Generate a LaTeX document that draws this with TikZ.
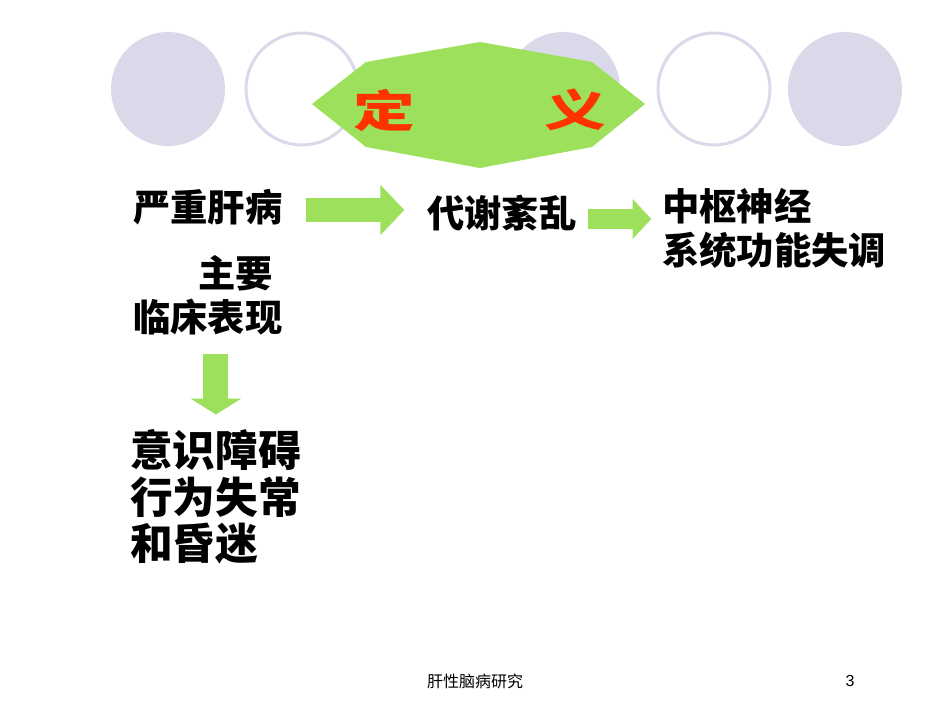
\documentclass[tikz,border=0pt]{standalone}
\usepackage{fontspec}
\usetikzlibrary{arrows.meta}
\setmainfont{Liberation Serif}
\newfontfamily\cjk{Noto Sans CJK SC}
\definecolor{lavender}{RGB}{217,217,234}
\definecolor{leafgreen}{RGB}{157,224,92}
\definecolor{titlered}{RGB}{255,51,0}
\tikzset{
  maintext/.style={anchor=west, inner sep=0pt, align=left, font=\cjk\bfseries\fontsize{28}{33}\selectfont},
  bigtext/.style={anchor=west, inner sep=0pt, align=left, font=\cjk\bfseries\fontsize{32}{35}\selectfont},
  titletext/.style={inner sep=0pt, text=titlered, font=\cjk\bfseries\fontsize{33}{33}\selectfont},
  footertext/.style={inner sep=0pt, font=\cjk\fontsize{12}{14}\selectfont},
  arrowone/.style={leafgreen, line width=18pt, -{Triangle[length=18pt 0 0, width=36.75pt 0 0]}},
  arrowtwo/.style={leafgreen, line width=15pt, -{Triangle[length=14pt 0 0, width=29pt 0 0]}},
  arrowdown/.style={leafgreen, line width=18.75pt, -{Triangle[length=12pt 0 0, width=37.5pt 0 0]}}
}

\begin{document}
\begin{tikzpicture}[x=0.75pt,y=0.75pt,yscale=-1,xscale=1]
\useasboundingbox (0,0) rectangle (950,713);

%Circles
\fill [lavender] (168,89) circle [radius=57];
\draw [lavender, line width=2.25pt] (302,89) circle [radius=56];
\fill [lavender] (563,89) circle [radius=57];
\draw [lavender, line width=2.25pt] (714,89) circle [radius=56];
\fill [lavender] (845,89) circle [radius=57];

%Octagon
\fill [leafgreen] (312,104) -- (366,62) -- (480,42) -- (592,62) -- (645,104) -- (592,147) -- (480,168) -- (366,147) -- cycle;

% Title Nodes
\node (ding) at (384,111) [titletext] {\scalebox{1.4}[1]{定}};
\node (yi) at (575,110) [titletext] {\scalebox{1.4}[1]{义}};

% Text Nodes
\node (liver) at (133,207) [maintext] {严重肝病};
\node (metab) at (427,213) [maintext] {代谢紊乱};
\node (cns) at (662,228) [maintext] {中枢神经\\系统功能失调};
\node (manif) at (133,295) [maintext] {\hspace*{48.75pt}主要\\临床表现};
\node (lost) at (130,497) [bigtext] {意识障碍\\行为失常\\和昏迷};

% Footer
\node (footer) at (475,681) [footertext] {肝性脑病研究};
\node (page) at (850,681) [inner sep=0pt, font=\fontspec{Liberation Sans}\fontsize{12}{14}\selectfont] {3};

%Block Arrows
\draw [arrowone, shorten <=17pt, shorten >=17pt] ([yshift=2.25pt]liver.east) -- ([yshift=2.25pt]liver.east -| metab.west);
\draw [arrowtwo, shorten <=8pt, shorten >=8pt] ([yshift=4.5pt]metab.east) -- ([yshift=4.5pt]metab.east -| cns.west);
\draw [arrowdown, shorten <=14pt, shorten >=11pt] ([xshift=6pt]manif.south) -- ([xshift=6pt]manif.south |- lost.north);

\end{tikzpicture}
\end{document}
